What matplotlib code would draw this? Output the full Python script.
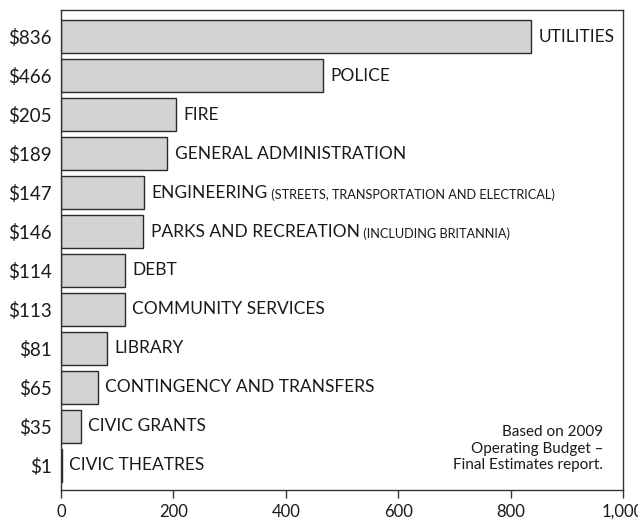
import matplotlib
matplotlib.use("Agg")
import matplotlib.pyplot as plt

categories = ["UTILITIES", "POLICE", "FIRE", "GENERAL ADMINISTRATION", "ENGINEERING",
              "PARKS AND RECREATION", "DEBT", "COMMUNITY SERVICES", "LIBRARY",
              "CONTINGENCY AND TRANSFERS", "CIVIC GRANTS", "CIVIC THEATRES"]
notes = ["", "", "", "", "(STREETS, TRANSPORTATION AND ELECTRICAL)",
         "(INCLUDING BRITANNIA)", "", "", "", "", "", ""]
values = [836, 466, 205, 189, 147, 146, 114, 113, 81, 65, 35, 1]
value_labels = ["$836", "$466", "$205", "$189", "$147", "$146", "$114", "$113",
                "$81", "$65", "$35", "$1"]
xticks = [0, 200, 400, 600, 800, 1000]
xtick_labels = ["0", "200", "400", "600", "800", "1,000"]
note_text = "Based on 2009\nOperating Budget \u2013\nFinal Estimates report."

plt.rcParams['font.family'] = ['Lato', 'DejaVu Sans']
fig = plt.figure(figsize=(6.38, 5.21), dpi=100)
ax = fig.add_axes([61/638, 1-490/521, (623-61)/638, (490-10)/521])

pos = list(range(len(values)))
ax.barh(pos, values, height=0.85, color="#d3d3d3", edgecolor="#2a2a2a", linewidth=1.0)
ax.set_ylim(11.64, -0.69)
ax.set_xlim(0, 1000)
ax.set_yticks(pos)
ax.set_yticklabels(value_labels, fontsize=13.5, color="#1a1a1a")
ax.tick_params(axis='y', length=0, pad=6.5)
ax.set_xticks(xticks)
ax.set_xticklabels(xtick_labels, fontsize=12, color="#1a1a1a")
ax.tick_params(axis='x', length=6, width=1, color="#333333", pad=4)
for s in ax.spines.values():
    s.set_color("#333333")
    s.set_linewidth(1.0)

for p, v, c, n in zip(pos, values, categories, notes):
    t = ax.annotate(c, xy=(v, p), xytext=(5.5, 0), textcoords="offset points",
                    va="center", ha="left", fontsize=12.5, color="#1a1a1a")
    if n:
        ax.annotate(" " + n, xy=(1, 0), xycoords=t, va="bottom", ha="left",
                    fontsize=9.2, color="#1a1a1a")

ax.text(0.965, 0.038, note_text, transform=ax.transAxes, ha="right", va="bottom",
        fontsize=11, color="#1a1a1a", linespacing=1.2)

fig.savefig("out.png", dpi=100)
